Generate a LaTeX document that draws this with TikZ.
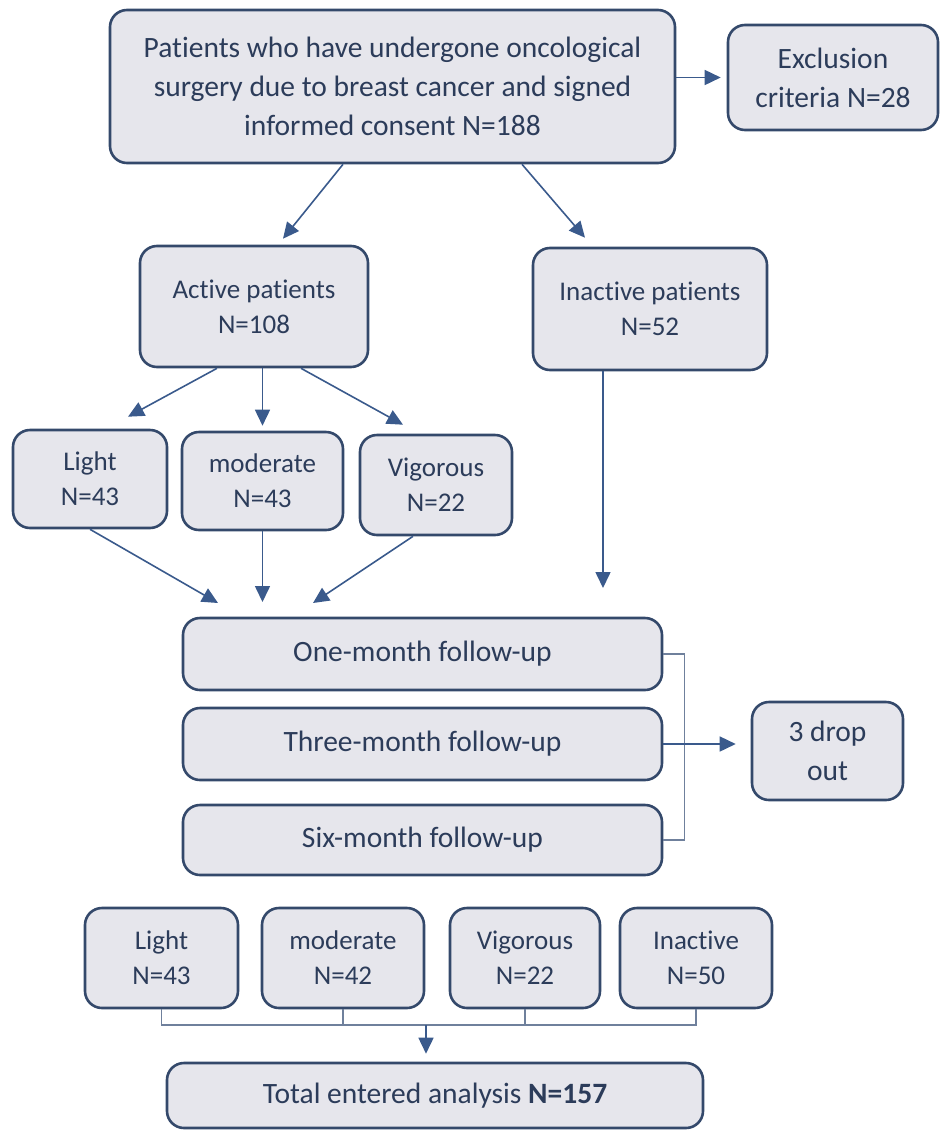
\documentclass[tikz,border=0pt]{standalone}
\usepackage{fontspec}
\setmainfont{Carlito}[Ligatures=NoCommon]
\usepackage{tikz}
\usetikzlibrary{arrows.meta}

\definecolor{boxfill}{HTML}{E6E6EC}
\definecolor{boxline}{HTML}{34496B}
\definecolor{txt}{HTML}{2C3C5A}
\definecolor{arrowc}{HTML}{3A5A8C}
\definecolor{linkc}{HTML}{6F809C}

\begin{document}
\begin{tikzpicture}[x=1pt, y=-1pt,
    box/.style={draw=boxline, fill=boxfill, line width=2.6pt, rounded corners=17pt,
      align=center, text=txt, inner sep=0pt},
    big/.style={font=\fontsize{29.5}{39}\selectfont},
    small/.style={font=\fontsize{27}{35}\selectfont},
    arr/.style={draw=arrowc, line width=1.6pt, -{Triangle[length=16pt,width=15pt]}},
    link/.style={draw=linkc, line width=1.6pt}]
      \useasboundingbox (0,0) rectangle (946,1130);

      \node[box, big, minimum width=565pt, minimum height=153pt] (top) at (392.5,86.5)
        {Patients who have undergone oncological\\surgery due to breast cancer and signed\\informed consent N=188};
      \node[box, big, minimum width=210pt, minimum height=105pt] (excl) at (833,77.5)
        {Exclusion\\criteria N=28};

      \node[box, small, minimum width=228pt, minimum height=121pt] (active) at (254,306.5)
        {Active patients\\N=108};
      \node[box, small, minimum width=234pt, minimum height=122pt] (inactive) at (650,309)
        {Inactive patients\\N=52};

      \node[box, small, minimum width=154pt, minimum height=98pt] (light) at (90,479) {Light\\N=43};
      \node[box, small, minimum width=161pt, minimum height=98pt] (moderate) at (262.5,481) {moderate\\N=43};
      \node[box, small, minimum width=152pt, minimum height=100pt] (vigorous) at (436,485) {Vigorous\\N=22};

      \node[box, big, minimum width=479pt, minimum height=72pt] (fu1) at (422.5,654) {One-month follow-up};
      \node[box, big, minimum width=479pt, minimum height=72pt] (fu2) at (422.5,744) {Three-month follow-up};
      \node[box, big, minimum width=479pt, minimum height=70pt] (fu3) at (422.5,840) {Six-month follow-up};
      \node[box, big, minimum width=151pt, minimum height=98pt] (drop) at (827.5,751) {3 drop\\out};

      \node[box, small, minimum width=153pt, minimum height=100pt] (light2) at (161.5,958) {Light\\N=43};
      \node[box, small, minimum width=162pt, minimum height=100pt] (moderate2) at (343,958) {moderate\\N=42};
      \node[box, small, minimum width=150pt, minimum height=100pt] (vigorous2) at (525,958) {Vigorous\\N=22};
      \node[box, small, minimum width=152pt, minimum height=100pt] (inactive2) at (696,958) {Inactive\\N=50};

      \node[box, big, minimum width=536pt, minimum height=65pt] (total) at (435,1095.5)
        {Total entered analysis \textbf{N=157}};

      % free ends above the follow-up boxes
      \coordinate (in1) at (218,603);
      \coordinate (in2) at (262.5,602);
      \coordinate (in3) at (313,603);
      \coordinate (in4) at (603,588);
      \coordinate (jn) at (426,1025);

      \draw[arr] (top.east |- excl.west) -- ([xshift=-6pt]excl.west);
      \draw[arr] ([xshift=-49.5pt]top.south) -- ([xshift=29pt,yshift=6pt]active.north);
      \draw[arr] ([xshift=129.5pt]top.south) -- ([xshift=-65pt,yshift=9pt]inactive.north);

      \draw[arr] ([xshift=-37pt]active.south) -- ([xshift=38pt,yshift=12pt]light.north);
      \draw[arr] ([xshift=8.5pt]active.south) -- ([yshift=5pt]moderate.north);
      \draw[arr] ([xshift=47pt]active.south) -- ([xshift=-33pt,yshift=9pt]vigorous.north);

      \draw[arr] (light.south) -- (in1);
      \draw[arr] (moderate.south) -- (in2);
      \draw[arr] ([xshift=-23pt]vigorous.south) -- (in3);
      \draw[arr] ([xshift=-47pt]inactive.south) -- (in4);

      \draw[link] (fu1.east) -- ++(21,0) |- (fu3.east);
      \draw[arr] (fu2.east) -- ([xshift=-15pt]drop.west |- fu2.east);

      \draw[link] (light2.south) |- (jn) -| (inactive2.south);
      \draw[link] (moderate2.south) -- (moderate2.south |- jn);
      \draw[link] (vigorous2.south) -- (vigorous2.south |- jn);
      \draw[arr] (jn) -- ([yshift=8pt]total.north -| jn);
    \end{tikzpicture}
\end{document}
